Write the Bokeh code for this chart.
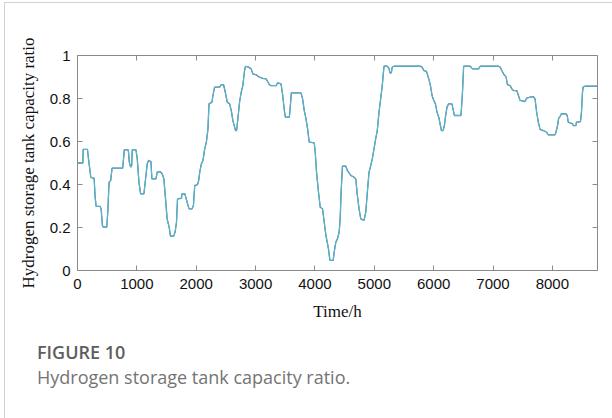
from bokeh.plotting import figure
from bokeh.models import LinearAxis, FixedTicker, CustomJSTickFormatter, Div, Range1d
from bokeh.layouts import column
from bokeh.embed import file_html
from bokeh.resources import INLINE

# ---- data ----
hours = [0, 90, 95, 168, 185, 224, 258, 280, 297, 314, 381, 398, 420, 437, 493, 510, 532, 560, 582,
         761, 789, 856, 873, 896, 912, 923, 985, 1007, 1035, 1063, 1119, 1153, 1175, 1198, 1237,
         1253, 1320, 1343, 1388, 1427, 1455, 1483, 1510, 1544, 1566, 1622, 1645, 1668, 1685, 1752,
         1762, 1807, 1824, 1863, 1879, 1930, 1953, 1975, 2020, 2042, 2059, 2087, 2114, 2143, 2171,
         2198, 2215, 2265, 2282, 2310, 2394, 2423, 2461, 2490, 2523, 2562, 2591, 2617, 2646, 2663,
         2680, 2702, 2730, 2758, 2785, 2814, 2831, 2881, 2926, 2953, 3010, 3065, 3121, 3178, 3233,
         3262, 3346, 3372, 3429, 3457, 3485, 3502, 3569, 3586, 3602, 3765, 3792, 3820, 3849, 3876,
         3904, 3988, 4005, 4027, 4060, 4089, 4128, 4156, 4185, 4228, 4252, 4307, 4324, 4352, 4379,
         4408, 4425, 4441, 4463, 4520, 4547, 4604, 4659, 4688, 4715, 4743, 4772, 4827, 4856, 4883,
         4911, 4940, 4966, 4995, 5023, 5050, 5079, 5107, 5134, 5163, 5218, 5247, 5263, 5286, 5302,
         5331, 5778, 5805, 5834, 5879, 5918, 5946, 5973, 6002, 6030, 6057, 6086, 6114, 6131, 6158,
         6181, 6198, 6225, 6253, 6309, 6326, 6349, 6460, 6483, 6505, 6617, 6644, 6661, 6757, 6785,
         7092, 7121, 7148, 7176, 7221, 7243, 7289, 7315, 7344, 7399, 7428, 7456, 7540, 7567, 7624,
         7680, 7708, 7735, 7763, 7792, 7847, 7903, 7931, 8043, 8060, 8087, 8104, 8128, 8154, 8228,
         8250, 8267, 8339, 8351, 8396, 8406, 8435, 8473, 8490, 8507, 8518, 8547, 8760]
ratio = [0.50, 0.50, 0.563, 0.563, 0.52, 0.434, 0.43, 0.43, 0.341, 0.298, 0.298, 0.287, 0.209, 0.202,
         0.202, 0.271, 0.411, 0.419, 0.476, 0.476, 0.561, 0.561, 0.504, 0.481, 0.488, 0.561, 0.561,
         0.519, 0.411, 0.357, 0.357, 0.442, 0.496, 0.512, 0.507, 0.426, 0.426, 0.457, 0.46, 0.45,
         0.426, 0.333, 0.24, 0.202, 0.16, 0.16, 0.18, 0.225, 0.333, 0.336, 0.357, 0.357, 0.341,
         0.302, 0.287, 0.287, 0.302, 0.395, 0.399, 0.419, 0.457, 0.496, 0.512, 0.566, 0.597, 0.659,
         0.775, 0.783, 0.814, 0.853, 0.853, 0.865, 0.864, 0.829, 0.783, 0.775, 0.744, 0.698, 0.667,
         0.651, 0.651, 0.706, 0.783, 0.829, 0.86, 0.93, 0.95, 0.946, 0.938, 0.915, 0.91, 0.899,
         0.894, 0.891, 0.864, 0.86, 0.86, 0.873, 0.868, 0.814, 0.744, 0.713, 0.713, 0.767, 0.826,
         0.826, 0.798, 0.744, 0.706, 0.659, 0.597, 0.594, 0.55, 0.457, 0.364, 0.294, 0.287, 0.225,
         0.163, 0.101, 0.047, 0.047, 0.085, 0.132, 0.147, 0.178, 0.24, 0.364, 0.485, 0.485, 0.465,
         0.442, 0.434, 0.426, 0.349, 0.287, 0.24, 0.233, 0.271, 0.364, 0.457, 0.488, 0.519, 0.566,
         0.612, 0.651, 0.736, 0.798, 0.86, 0.95, 0.95, 0.941, 0.919, 0.919, 0.946, 0.95, 0.95, 0.946,
         0.93, 0.926, 0.891, 0.86, 0.814, 0.791, 0.775, 0.736, 0.713, 0.674, 0.651, 0.651, 0.674,
         0.713, 0.76, 0.775, 0.775, 0.752, 0.721, 0.721, 0.814, 0.95, 0.95, 0.941, 0.938, 0.938,
         0.95, 0.95, 0.946, 0.93, 0.915, 0.899, 0.864, 0.86, 0.845, 0.837, 0.837, 0.814, 0.791,
         0.786, 0.802, 0.806, 0.809, 0.798, 0.736, 0.69, 0.656, 0.651, 0.643, 0.631, 0.631, 0.643,
         0.674, 0.706, 0.716, 0.729, 0.729, 0.721, 0.69, 0.682, 0.674, 0.674, 0.69, 0.69, 0.693,
         0.736, 0.829, 0.853, 0.857, 0.857]
x_ticks = [0, 1000, 2000, 3000, 4000, 5000, 6000, 7000, 8000]
y_ticks = [0, 0.2, 0.4, 0.6, 0.8, 1]
x_label = "Time/h"
y_label = "Hydrogen storage tank capacity ratio"
fig_number = "FIGURE 10"
caption = "Hydrogen storage tank capacity ratio."

AX = "#8a8a8a"

p = figure(width=612, height=330, x_range=Range1d(0, 8760), y_range=Range1d(0, 1),
           output_backend="svg", toolbar_location=None,
           min_border_left=77, min_border_right=15, min_border_top=55, min_border_bottom=60,
           background_fill_color="white", border_fill_color=None, outline_line_color=None)
p.grid.visible = False

p.line(hours, ratio, line_color="#2a3c48", line_width=1.3, line_alpha=0.75)
p.line(hours, ratio, line_color="#4cc0de", line_width=1.0)

fmt = CustomJSTickFormatter(code="return tick.toString();")

def style_axis(ax, labels=True):
    ax.axis_line_color = AX
    ax.major_tick_line_color = AX
    ax.major_tick_in = 5
    ax.major_tick_out = 0
    ax.minor_tick_line_color = None
    if labels:
        ax.major_label_text_font = "Liberation Sans"
        ax.major_label_text_font_size = "15px"
        ax.major_label_text_color = "#111111"
        ax.axis_label_text_font = "Liberation Serif"
        ax.axis_label_text_font_size = "17px"
        ax.axis_label_text_font_style = "normal"
        ax.axis_label_text_color = "#111111"
    else:
        ax.major_label_text_font_size = "0px"
        ax.major_label_text_alpha = 0

xa = p.xaxis[0]
xa.ticker = FixedTicker(ticks=x_ticks)
xa.axis_label = x_label
xa.major_label_standoff = 8
xa.axis_label_standoff = 10
style_axis(xa)

ya = p.yaxis[0]
ya.ticker = FixedTicker(ticks=y_ticks)
ya.formatter = fmt
ya.axis_label = y_label
ya.major_label_standoff = 7
ya.axis_label_standoff = 9
style_axis(ya)

top = LinearAxis(ticker=FixedTicker(ticks=x_ticks))
style_axis(top, labels=False)
p.add_layout(top, "above")
right = LinearAxis(ticker=FixedTicker(ticks=y_ticks))
style_axis(right, labels=False)
p.add_layout(right, "right")

cap = Div(text=(
    '<div style="font-family:\'Open Sans\';padding-left:37px;padding-top:10px;">'
    f'<div style="font-size:18px;font-weight:600;color:#5e5e5e;line-height:24px;">{fig_number}</div>'
    f'<div style="font-size:18px;font-weight:400;color:#747474;line-height:26px;">{caption}</div>'
    '</div>'), width=612, height=88, margin=0)

layout = column(p, cap, spacing=0,
                styles={"box-shadow": "inset 4px 2px 0 0 #ffffff, inset 5px 3px 0 0 #d2d2d2"})

with open("out.html", "w") as f:
    f.write(file_html(layout, INLINE))
